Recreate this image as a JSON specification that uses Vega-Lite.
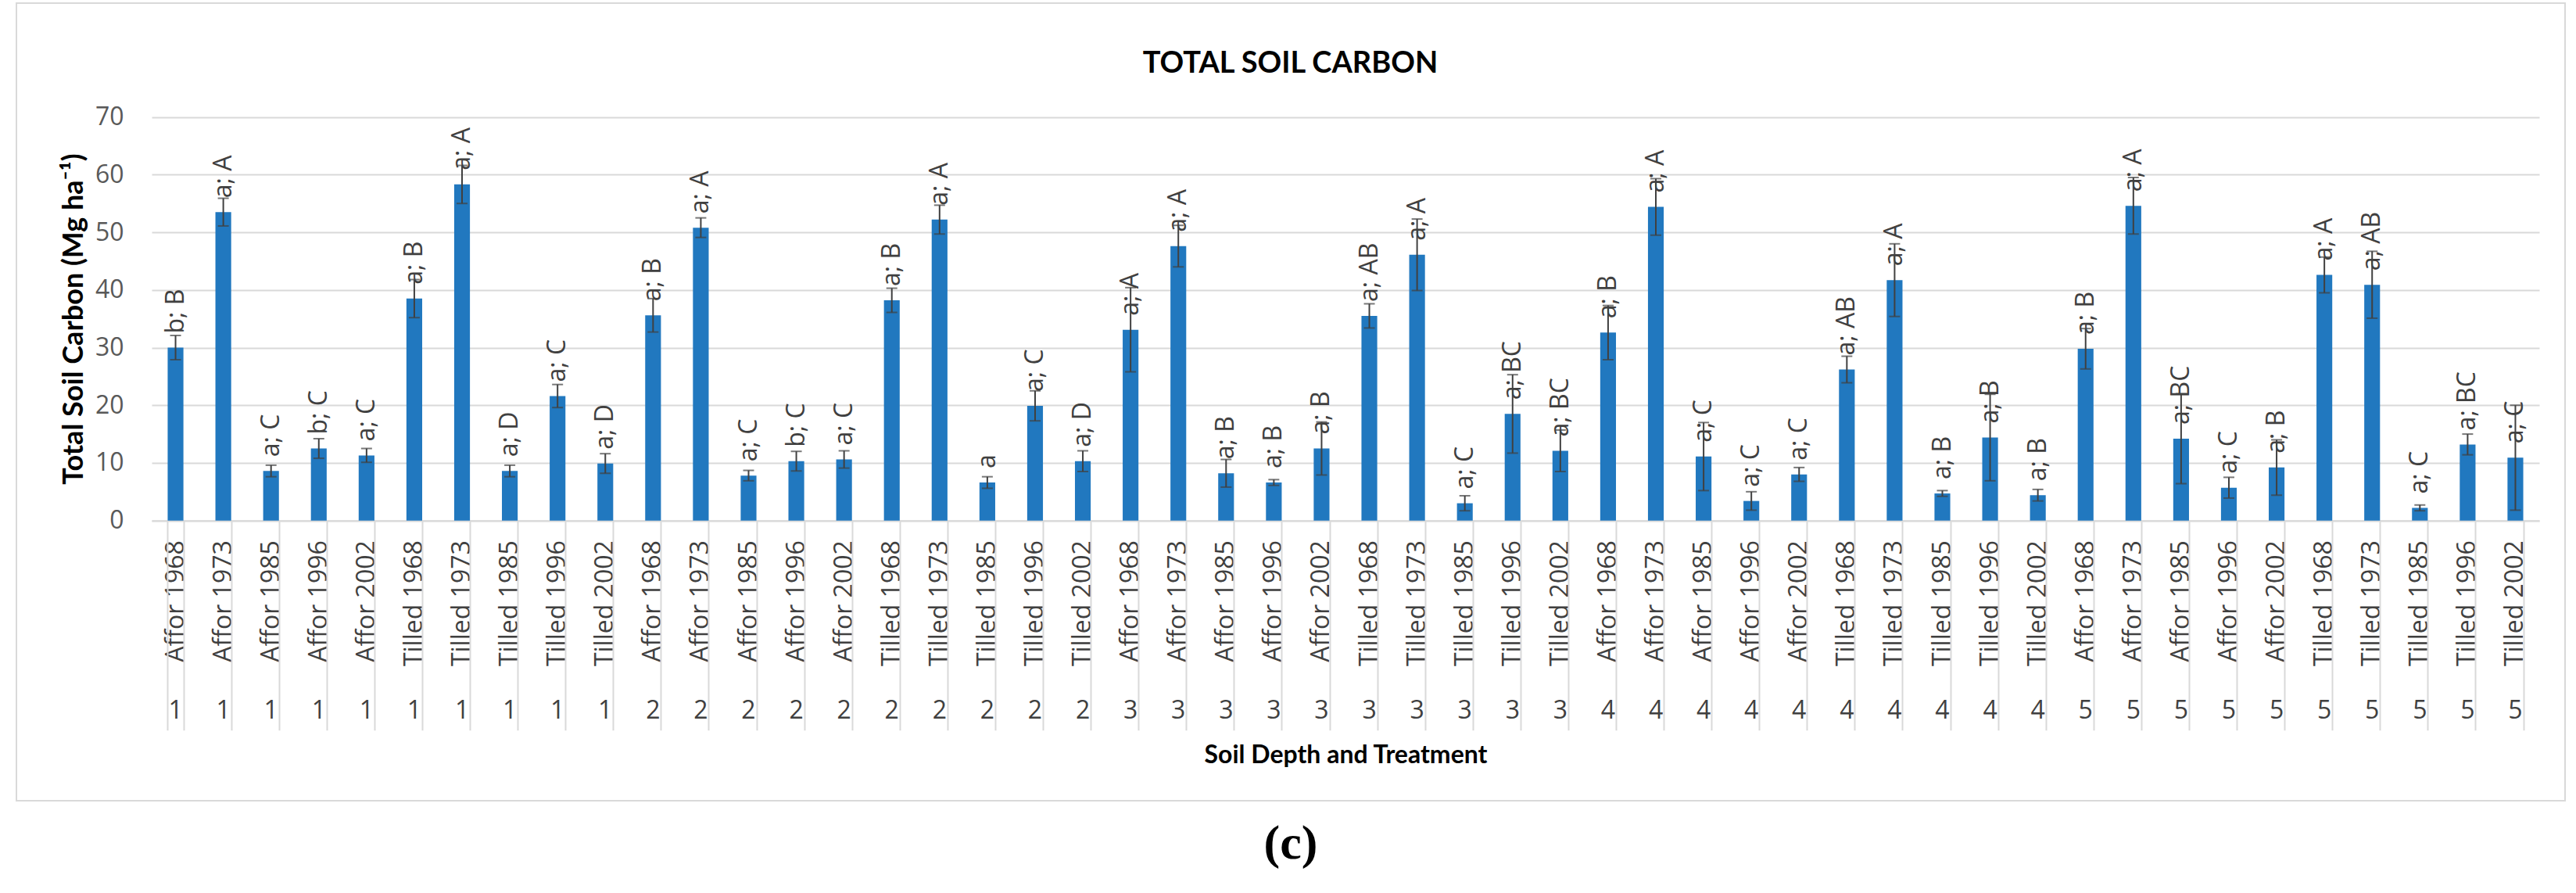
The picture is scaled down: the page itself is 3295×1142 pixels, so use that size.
{
  "$schema": "https://vega.github.io/schema/vega-lite/v6.json",
  "width": 3260,
  "height": 1020,
  "autosize": {"type": "none"},
  "padding": {"left": 21, "top": 4, "right": 14, "bottom": 118},
  "background": "white",
  "title": {"text": "(c)", "orient": "bottom", "frame": "group", "anchor": "middle", "offset": 25, "font": "Liberation Serif", "fontSize": 62, "fontWeight": "bold", "color": "black", "baseline": "top"},
  "config": {"view": {"stroke": "#d9d9d9", "strokeWidth": 2}, "font": "Open Sans"},
  "data": {"values": [
    {"key": "Affor 1968|1", "carbon": 30.0, "lo": 27.9, "hi": 32.1, "label": "b; B"},
    {"key": "Affor 1973|1", "carbon": 53.5, "lo": 51.1, "hi": 55.9, "label": "a; A"},
    {"key": "Affor 1985|1", "carbon": 8.6, "lo": 7.6, "hi": 9.6, "label": "a; C"},
    {"key": "Affor 1996|1", "carbon": 12.5, "lo": 10.8, "hi": 14.2, "label": "b; C"},
    {"key": "Affor 2002|1", "carbon": 11.3, "lo": 10.1, "hi": 12.5, "label": "a; C"},
    {"key": "Tilled 1968|1", "carbon": 38.5, "lo": 35.2, "hi": 41.8, "label": "a; B"},
    {"key": "Tilled 1973|1", "carbon": 58.3, "lo": 55.0, "hi": 61.6, "label": "a; A"},
    {"key": "Tilled 1985|1", "carbon": 8.6, "lo": 7.6, "hi": 9.6, "label": "a; D"},
    {"key": "Tilled 1996|1", "carbon": 21.6, "lo": 19.6, "hi": 23.6, "label": "a; C"},
    {"key": "Tilled 2002|1", "carbon": 9.9, "lo": 8.2, "hi": 11.6, "label": "a; D"},
    {"key": "Affor 1968|2", "carbon": 35.6, "lo": 32.7, "hi": 38.5, "label": "a; B"},
    {"key": "Affor 1973|2", "carbon": 50.8, "lo": 49.1, "hi": 52.5, "label": "a; A"},
    {"key": "Affor 1985|2", "carbon": 7.8, "lo": 6.9, "hi": 8.7, "label": "a; C"},
    {"key": "Affor 1996|2", "carbon": 10.3, "lo": 8.6, "hi": 12.0, "label": "b; C"},
    {"key": "Affor 2002|2", "carbon": 10.6, "lo": 9.1, "hi": 12.1, "label": "a; C"},
    {"key": "Tilled 1968|2", "carbon": 38.2, "lo": 36.1, "hi": 40.3, "label": "a; B"},
    {"key": "Tilled 1973|2", "carbon": 52.2, "lo": 49.7, "hi": 54.7, "label": "a; A"},
    {"key": "Tilled 1985|2", "carbon": 6.6, "lo": 5.6, "hi": 7.6, "label": "a"},
    {"key": "Tilled 1996|2", "carbon": 19.9, "lo": 17.3, "hi": 22.5, "label": "a; C"},
    {"key": "Tilled 2002|2", "carbon": 10.3, "lo": 8.5, "hi": 12.1, "label": "a; D"},
    {"key": "Affor 1968|3", "carbon": 33.1, "lo": 25.8, "hi": 40.4, "label": "a; A"},
    {"key": "Affor 1973|3", "carbon": 47.6, "lo": 44.0, "hi": 51.2, "label": "a; A"},
    {"key": "Affor 1985|3", "carbon": 8.2, "lo": 5.8, "hi": 10.6, "label": "a; B"},
    {"key": "Affor 1996|3", "carbon": 6.6, "lo": 6.1, "hi": 7.1, "label": "a; B"},
    {"key": "Affor 2002|3", "carbon": 12.5, "lo": 7.9, "hi": 17.1, "label": "a; B"},
    {"key": "Tilled 1968|3", "carbon": 35.5, "lo": 33.4, "hi": 37.6, "label": "a; AB"},
    {"key": "Tilled 1973|3", "carbon": 46.1, "lo": 39.9, "hi": 52.3, "label": "a; A"},
    {"key": "Tilled 1985|3", "carbon": 3.0, "lo": 1.7, "hi": 4.3, "label": "a; C"},
    {"key": "Tilled 1996|3", "carbon": 18.5, "lo": 11.7, "hi": 25.3, "label": "a; BC"},
    {"key": "Tilled 2002|3", "carbon": 12.1, "lo": 8.5, "hi": 15.7, "label": "a; BC"},
    {"key": "Affor 1968|4", "carbon": 32.6, "lo": 27.9, "hi": 37.3, "label": "a; B"},
    {"key": "Affor 1973|4", "carbon": 54.4, "lo": 49.5, "hi": 59.3, "label": "a; A"},
    {"key": "Affor 1985|4", "carbon": 11.1, "lo": 5.2, "hi": 17.0, "label": "a; C"},
    {"key": "Affor 1996|4", "carbon": 3.4, "lo": 1.8, "hi": 5.0, "label": "a; C"},
    {"key": "Affor 2002|4", "carbon": 8.0, "lo": 6.8, "hi": 9.2, "label": "a; C"},
    {"key": "Tilled 1968|4", "carbon": 26.2, "lo": 23.9, "hi": 28.5, "label": "a; AB"},
    {"key": "Tilled 1973|4", "carbon": 41.7, "lo": 35.4, "hi": 48.0, "label": "a; A"},
    {"key": "Tilled 1985|4", "carbon": 4.7, "lo": 4.2, "hi": 5.2, "label": "a; B"},
    {"key": "Tilled 1996|4", "carbon": 14.4, "lo": 6.9, "hi": 21.9, "label": "a; B"},
    {"key": "Tilled 2002|4", "carbon": 4.4, "lo": 3.4, "hi": 5.4, "label": "a; B"},
    {"key": "Affor 1968|5", "carbon": 29.8, "lo": 26.3, "hi": 33.3, "label": "a; B"},
    {"key": "Affor 1973|5", "carbon": 54.6, "lo": 49.7, "hi": 59.5, "label": "a; A"},
    {"key": "Affor 1985|5", "carbon": 14.2, "lo": 6.4, "hi": 22.0, "label": "a; BC"},
    {"key": "Affor 1996|5", "carbon": 5.7, "lo": 3.9, "hi": 7.5, "label": "a; C"},
    {"key": "Affor 2002|5", "carbon": 9.2, "lo": 4.4, "hi": 14.0, "label": "a; B"},
    {"key": "Tilled 1968|5", "carbon": 42.6, "lo": 39.5, "hi": 45.7, "label": "a; A"},
    {"key": "Tilled 1973|5", "carbon": 40.9, "lo": 35.1, "hi": 46.7, "label": "a; AB"},
    {"key": "Tilled 1985|5", "carbon": 2.2, "lo": 1.7, "hi": 2.7, "label": "a; C"},
    {"key": "Tilled 1996|5", "carbon": 13.2, "lo": 11.4, "hi": 15.0, "label": "a; BC"},
    {"key": "Tilled 2002|5", "carbon": 10.9, "lo": 1.8, "hi": 20.0, "label": "a; C"}
  ]},
  "layer": [
    {
      "mark": {"type": "bar", "color": "#2178BF"},
      "encoding": {
        "x": {"field": "key", "type": "nominal", "sort": null,
          "scale": {"range": [173, 3227], "paddingInner": 0.67, "paddingOuter": 0.335},
          "axis": {"orient": "bottom", "offset": -358.3, "title": null,
            "labelExpr": "split(datum.value, '|')[0]", "labelAngle": 270, "labelAlign": "right", "labelBaseline": "middle",
            "labelFontSize": 32, "labelFont": "Open Sans", "labelColor": "#404040", "labelPadding": 25, "labelLimit": 400,
            "labelOverlap": false, "labelBound": false,
            "ticks": false, "domain": true, "domainColor": "#d9d9d9", "domainWidth": 2, "grid": false}},
        "y": {"field": "carbon", "type": "quantitative",
          "scale": {"domain": [0, 70], "range": [661.7, 145.6], "nice": false},
          "axis": {"title": "Total Soil Carbon  (Mg ha⁻¹)", "offset": -173, "values": [0, 10, 20, 30, 40, 50, 60, 70],
            "domain": false, "ticks": false, "grid": true, "gridColor": "#d9d9d9", "gridWidth": 2,
            "labelFontSize": 32, "labelFont": "Open Sans", "labelColor": "#595959", "labelPadding": 36,
            "titleFont": "Lato", "titleFontSize": 36, "titleFontWeight": "bold", "titleColor": "black", "titlePadding": 8}}
      }
    },
    {
      "mark": {"type": "rule", "color": "#404040", "strokeWidth": 2},
      "encoding": {
        "x": {"field": "key", "type": "nominal", "sort": null,
          "axis": {"orient": "bottom", "offset": -358.3, "title": "Soil Depth and Treatment",
            "labelExpr": "split(datum.value, '|')[1]", "labelAngle": 0, "labelAlign": "center", "labelBaseline": "top",
            "labelFontSize": 32, "labelFont": "Open Sans", "labelColor": "#404040", "labelPadding": 228,
            "labelOverlap": false, "labelBound": false,
            "ticks": false, "domain": false, "grid": false,
            "titleFont": "Lato", "titleFontSize": 32, "titleFontWeight": "bold", "titleColor": "black",
            "titleY": 300, "titleBaseline": "middle"}},
        "y": {"field": "lo", "type": "quantitative"},
        "y2": {"field": "hi"}
      }
    },
    {
      "mark": {"type": "tick", "color": "#404040", "thickness": 2, "size": 14},
      "encoding": {
        "x": {"field": "key", "type": "nominal", "sort": null,
          "axis": {"orient": "bottom", "offset": -358.3, "title": null, "labels": false, "domain": false, "grid": false,
            "ticks": true, "tickBand": "extent", "tickSize": 268, "tickColor": "#d9d9d9", "tickWidth": 2}},
        "y": {"field": "lo", "type": "quantitative"}
      }
    },
    {
      "mark": {"type": "tick", "color": "#404040", "thickness": 2, "size": 14},
      "encoding": {
        "x": {"field": "key", "type": "nominal", "sort": null, "axis": null},
        "y": {"field": "hi", "type": "quantitative"}
      }
    },
    {
      "mark": {"type": "text", "angle": 270, "align": "left", "baseline": "middle", "dx": 18, "fontSize": 32, "font": "Open Sans", "color": "#404040"},
      "encoding": {
        "x": {"field": "key", "type": "nominal", "sort": null,
          "axis": {"orient": "top", "title": "TOTAL SOIL CARBON", "labels": false, "ticks": false, "domain": false, "grid": false,
            "titleFont": "Lato", "titleFontSize": 38, "titleFontWeight": "bold", "titleColor": "black",
            "titleX": 1629, "titleY": 77, "titleBaseline": "middle", "titleAlign": "center"}},
        "y": {"field": "carbon", "type": "quantitative"},
        "text": {"field": "label"}
      }
    }
  ],
  "resolve": {"axis": {"x": "independent"}}
}
